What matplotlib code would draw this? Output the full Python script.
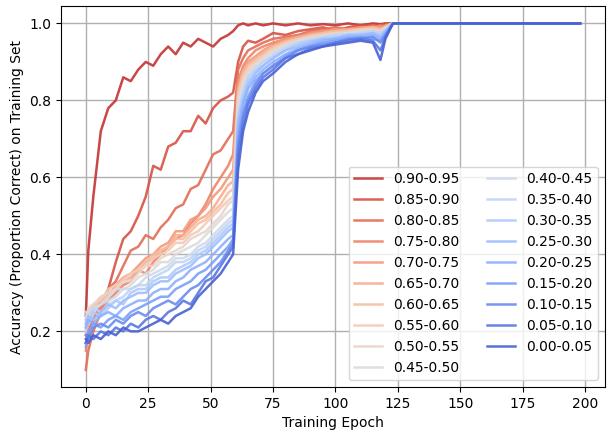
import numpy as np
import matplotlib.pyplot as plt
import seaborn as sns

epochs = [0, 1, 3, 6, 9, 12, 15, 18, 21, 24, 27, 30, 33, 36, 39, 42, 45, 48, 51, 54, 57, 59,
          61, 63, 65, 68, 71, 75, 80, 85, 90, 95, 100, 105, 110, 115, 118, 120, 123, 125, 198]

labels = ['0.90-0.95', '0.85-0.90', '0.80-0.85', '0.75-0.80', '0.70-0.75', '0.65-0.70',
          '0.60-0.65', '0.55-0.60', '0.50-0.55', '0.45-0.50', '0.40-0.45', '0.35-0.40',
          '0.30-0.35', '0.25-0.30', '0.20-0.25', '0.15-0.20', '0.10-0.15', '0.05-0.10',
          '0.00-0.05']

acc_90 = [0.24, 0.41, 0.55, 0.72, 0.78, 0.80, 0.86, 0.85, 0.88, 0.90, 0.89, 0.92, 0.94, 0.92, 0.95, 0.94,
          0.96, 0.95, 0.94, 0.96, 0.97, 0.98, 0.995, 1.0, 0.995, 1.0, 0.995, 1.0, 0.995, 1.0, 0.995, 0.998,
          0.995, 1.0, 0.995, 1.0, 0.998, 1.0, 1.0, 1.0, 1.0]
acc_85 = [0.17, 0.20, 0.23, 0.27, 0.31, 0.38, 0.44, 0.46, 0.50, 0.55, 0.63, 0.62, 0.68, 0.69, 0.72, 0.72,
          0.76, 0.74, 0.78, 0.80, 0.81, 0.82, 0.90, 0.94, 0.955, 0.95, 0.96, 0.975, 0.97, 0.98, 0.985, 0.99,
          0.98, 0.99, 0.995, 0.99, 0.995, 1.0, 1.0, 1.0, 1.0]
acc_80 = [0.10, 0.15, 0.20, 0.25, 0.31, 0.33, 0.37, 0.41, 0.42, 0.45, 0.44, 0.47, 0.49, 0.52, 0.53, 0.57,
          0.58, 0.62, 0.66, 0.67, 0.70, 0.72, 0.88, 0.91, 0.93, 0.94, 0.95, 0.96, 0.965, 0.97, 0.98, 0.985,
          0.99, 0.985, 0.99, 0.995, 0.99, 0.995, 1.0, 1.0, 1.0]
acc_75 = [0.15, 0.19, 0.23, 0.26, 0.28, 0.30, 0.32, 0.33, 0.36, 0.35, 0.38, 0.40, 0.42, 0.44, 0.45, 0.48,
          0.50, 0.53, 0.57, 0.60, 0.63, 0.66, 0.85, 0.89, 0.91, 0.93, 0.94, 0.95, 0.96, 0.965, 0.975, 0.98,
          0.985, 0.98, 0.99, 0.99, 0.995, 0.99, 1.0, 1.0, 1.0]
acc_70 = [0.19, 0.22, 0.25, 0.28, 0.29, 0.32, 0.34, 0.35, 0.37, 0.39, 0.40, 0.42, 0.43, 0.46, 0.46, 0.49,
          0.50, 0.52, 0.55, 0.57, 0.60, 0.62, 0.84, 0.88, 0.90, 0.915, 0.93, 0.945, 0.96, 0.965, 0.975, 0.98,
          0.985, 0.985, 0.99, 0.99, 0.99, 0.995, 1.0, 1.0, 1.0]
acc_65 = [0.20, 0.23, 0.26, 0.27, 0.30, 0.31, 0.33, 0.34, 0.36, 0.38, 0.39, 0.41, 0.42, 0.45, 0.45, 0.47,
          0.49, 0.50, 0.52, 0.55, 0.58, 0.59, 0.83, 0.875, 0.895, 0.91, 0.925, 0.94, 0.955, 0.965, 0.97, 0.975,
          0.98, 0.985, 0.985, 0.99, 0.985, 0.99, 1.0, 1.0, 1.0]
acc_60 = [0.21, 0.24, 0.26, 0.29, 0.29, 0.31, 0.34, 0.35, 0.36, 0.38, 0.40, 0.41, 0.42, 0.44, 0.44, 0.46,
          0.48, 0.49, 0.51, 0.53, 0.56, 0.57, 0.82, 0.87, 0.89, 0.905, 0.92, 0.94, 0.95, 0.96, 0.97, 0.975,
          0.98, 0.98, 0.985, 0.99, 0.985, 0.99, 1.0, 1.0, 1.0]
acc_55 = [0.22, 0.25, 0.27, 0.28, 0.31, 0.32, 0.33, 0.35, 0.36, 0.37, 0.39, 0.40, 0.41, 0.43, 0.43, 0.45,
          0.46, 0.48, 0.50, 0.52, 0.54, 0.55, 0.81, 0.86, 0.88, 0.90, 0.915, 0.935, 0.95, 0.96, 0.965, 0.97,
          0.975, 0.98, 0.985, 0.985, 0.98, 0.99, 1.0, 1.0, 1.0]
acc_50 = [0.23, 0.26, 0.27, 0.29, 0.30, 0.31, 0.33, 0.33, 0.35, 0.37, 0.37, 0.39, 0.40, 0.41, 0.42, 0.44,
          0.45, 0.46, 0.48, 0.50, 0.53, 0.54, 0.80, 0.85, 0.875, 0.895, 0.91, 0.93, 0.945, 0.955, 0.965, 0.97,
          0.975, 0.975, 0.98, 0.985, 0.98, 0.99, 1.0, 1.0, 1.0]
acc_45 = [0.25, 0.24, 0.26, 0.27, 0.29, 0.31, 0.31, 0.32, 0.34, 0.35, 0.36, 0.38, 0.38, 0.40, 0.41, 0.42,
          0.43, 0.45, 0.47, 0.49, 0.51, 0.52, 0.79, 0.84, 0.87, 0.89, 0.905, 0.925, 0.94, 0.955, 0.96, 0.965,
          0.97, 0.975, 0.98, 0.975, 0.97, 0.985, 1.0, 1.0, 1.0]
acc_40 = [0.24, 0.23, 0.25, 0.27, 0.28, 0.29, 0.31, 0.31, 0.32, 0.34, 0.35, 0.36, 0.37, 0.39, 0.39, 0.40,
          0.42, 0.43, 0.45, 0.47, 0.49, 0.50, 0.77, 0.83, 0.865, 0.885, 0.90, 0.92, 0.94, 0.95, 0.96, 0.965,
          0.97, 0.975, 0.975, 0.98, 0.975, 0.985, 1.0, 1.0, 1.0]
acc_35 = [0.20, 0.24, 0.26, 0.25, 0.27, 0.28, 0.29, 0.31, 0.32, 0.32, 0.34, 0.35, 0.36, 0.38, 0.38, 0.39,
          0.41, 0.42, 0.44, 0.46, 0.48, 0.49, 0.76, 0.82, 0.86, 0.88, 0.90, 0.915, 0.935, 0.95, 0.955, 0.965,
          0.97, 0.97, 0.975, 0.98, 0.975, 0.985, 1.0, 1.0, 1.0]
acc_30 = [0.23, 0.22, 0.25, 0.24, 0.26, 0.28, 0.27, 0.30, 0.31, 0.31, 0.33, 0.34, 0.34, 0.36, 0.37, 0.38,
          0.40, 0.41, 0.43, 0.45, 0.47, 0.48, 0.75, 0.81, 0.85, 0.875, 0.89, 0.91, 0.93, 0.945, 0.955, 0.96,
          0.965, 0.97, 0.97, 0.975, 0.97, 0.98, 1.0, 1.0, 1.0]
acc_25 = [0.22, 0.24, 0.23, 0.25, 0.27, 0.26, 0.28, 0.29, 0.30, 0.30, 0.32, 0.33, 0.33, 0.35, 0.36, 0.37,
          0.39, 0.40, 0.42, 0.44, 0.46, 0.47, 0.74, 0.80, 0.84, 0.87, 0.89, 0.91, 0.93, 0.94, 0.95, 0.96,
          0.96, 0.97, 0.97, 0.975, 0.965, 0.98, 1.0, 1.0, 1.0]
acc_20 = [0.21, 0.23, 0.22, 0.24, 0.25, 0.24, 0.26, 0.27, 0.28, 0.28, 0.30, 0.31, 0.31, 0.33, 0.34, 0.36,
          0.37, 0.38, 0.40, 0.42, 0.44, 0.45, 0.72, 0.79, 0.83, 0.86, 0.88, 0.90, 0.92, 0.935, 0.945, 0.955,
          0.96, 0.965, 0.965, 0.97, 0.96, 0.975, 1.0, 1.0, 1.0]
acc_15 = [0.16, 0.20, 0.22, 0.21, 0.23, 0.24, 0.23, 0.25, 0.26, 0.27, 0.28, 0.29, 0.29, 0.31, 0.32, 0.33,
          0.35, 0.36, 0.38, 0.40, 0.42, 0.44, 0.70, 0.77, 0.81, 0.85, 0.87, 0.89, 0.915, 0.93, 0.94, 0.95,
          0.955, 0.96, 0.965, 0.96, 0.955, 0.97, 1.0, 1.0, 1.0]
acc_10 = [0.19, 0.18, 0.21, 0.22, 0.21, 0.23, 0.22, 0.24, 0.25, 0.24, 0.26, 0.27, 0.28, 0.27, 0.29, 0.31,
          0.32, 0.34, 0.36, 0.38, 0.41, 0.43, 0.68, 0.76, 0.80, 0.84, 0.87, 0.89, 0.91, 0.93, 0.94, 0.945,
          0.95, 0.96, 0.96, 0.965, 0.95, 0.97, 1.0, 1.0, 1.0]
acc_05 = [0.17, 0.19, 0.18, 0.20, 0.19, 0.21, 0.20, 0.22, 0.21, 0.23, 0.24, 0.23, 0.25, 0.26, 0.28, 0.27,
          0.30, 0.33, 0.34, 0.37, 0.40, 0.42, 0.66, 0.74, 0.79, 0.83, 0.86, 0.88, 0.91, 0.92, 0.935, 0.94,
          0.95, 0.955, 0.96, 0.955, 0.93, 0.965, 1.0, 1.0, 1.0]
acc_00 = [0.18, 0.17, 0.19, 0.18, 0.20, 0.19, 0.21, 0.20, 0.20, 0.21, 0.22, 0.23, 0.22, 0.24, 0.25, 0.26,
          0.29, 0.31, 0.33, 0.35, 0.38, 0.40, 0.62, 0.72, 0.77, 0.82, 0.85, 0.87, 0.90, 0.92, 0.93, 0.94,
          0.945, 0.95, 0.955, 0.95, 0.905, 0.96, 1.0, 1.0, 1.0]

series = [acc_90, acc_85, acc_80, acc_75, acc_70, acc_65, acc_60, acc_55, acc_50, acc_45,
          acc_40, acc_35, acc_30, acc_25, acc_20, acc_15, acc_10, acc_05, acc_00]

colors = sns.color_palette('coolwarm', len(series))[::-1]

fig, ax = plt.subplots(figsize=(6.11, 4.36), dpi=100)
fig.subplots_adjust(left=0.1, right=0.99, top=0.986, bottom=0.112)

for vals, lab, c in zip(series, labels, colors):
    ax.plot(epochs, vals, color=c, lw=1.8, alpha=0.9, label=lab)

ax.grid(True, color='#b0b0b0', lw=1)
ax.set_axisbelow(True)
ax.set_xticks(np.arange(0, 201, 25))
ax.set_yticks([0.2, 0.4, 0.6, 0.8, 1.0])
ax.set_xlabel('Training Epoch')
ax.set_ylabel('Accuracy (Proportion Correct) on Training Set')
ax.legend(loc='lower right', ncol=2, fontsize=10, columnspacing=2.0)

plt.savefig('out.png', dpi=100)
